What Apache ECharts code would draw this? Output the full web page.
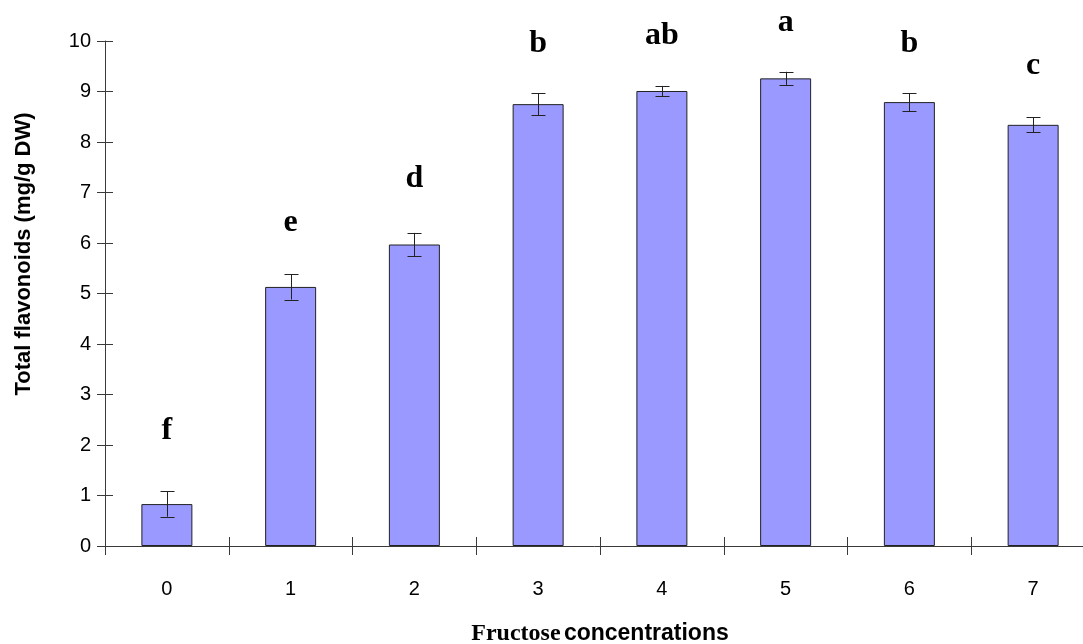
<!DOCTYPE html>
<html>
<head>
<meta charset="utf-8">
<script src="https://cdn.jsdelivr.net/npm/echarts@6/dist/echarts.min.js"></script>
<style>html,body{margin:0;padding:0;background:#fff}#c{width:1083px;height:644px}</style>
</head>
<body>
<div id="c"></div>
<script>
const categories = ['0','1','2','3','4','5','6','7'];
const values = [0.83, 5.13, 5.97, 8.75, 9.01, 9.26, 8.79, 8.34];
const errors = [0.25, 0.25, 0.23, 0.22, 0.10, 0.13, 0.18, 0.15];
const letters = ['f','e','d','b','ab','a','b','c'];
const letterY = [2.28, 6.40, 7.28, 9.95, 10.10, 10.36, 9.95, 9.52];
const yTicks = [0,1,2,3,4,5,6,7,8,9,10];

const axisColor = '#3a3a3a';
const chart = echarts.init(document.getElementById('c'));
const errData = values.map((v,i)=>[i, v-errors[i], v+errors[i]]);
const letterData = letters.map((t,i)=>[i, letterY[i], t]);

chart.setOption({
  animation:false,
  backgroundColor:'#fff',
  grid:{left:105, top:41, width:990, height:505, containLabel:false, outerBoundsMode:'none'},
  xAxis:[{
    type:'category', data:categories, boundaryGap:true,
    axisLine:{show:true, lineStyle:{color:axisColor, width:1}},
    axisTick:{show:true, inside:false, length:9, lineStyle:{color:axisColor}},
    axisLabel:{show:true, margin:33, color:'#000', fontSize:20, fontFamily:'Liberation Sans'},
    splitLine:{show:false},
    name:'{a|Fructose} {b|concentrations}', nameLocation:'middle', nameGap:76,
    nameTextStyle:{rich:{
      a:{fontFamily:'Liberation Serif', fontWeight:'bold', fontSize:24, color:'#000'},
      b:{fontFamily:'Liberation Sans', fontWeight:'bold', fontSize:23, color:'#000'}
    }}
  },{
    type:'category', data:categories, boundaryGap:true, position:'bottom',
    axisLine:{show:false},
    axisTick:{show:true, inside:true, length:9, lineStyle:{color:axisColor}},
    axisLabel:{show:false}, splitLine:{show:false}
  }],
  yAxis:[{
    type:'value', min:yTicks[0], max:yTicks[yTicks.length-1], interval:1,
    axisLine:{show:true, lineStyle:{color:axisColor, width:1}},
    axisTick:{show:true, inside:false, length:8, lineStyle:{color:axisColor}},
    axisLabel:{show:true, margin:14, color:'#000', fontSize:20, fontFamily:'Liberation Sans'},
    splitLine:{show:false}
  },{
    type:'value', min:yTicks[0], max:yTicks[yTicks.length-1], interval:1, position:'left',
    axisLine:{show:false},
    axisTick:{show:true, inside:true, length:8, lineStyle:{color:axisColor}},
    axisLabel:{show:false}, splitLine:{show:false}
  }],
  graphic:[{
    type:'text', x:24, y:254, rotation:Math.PI/2,
    style:{text:'Total flavonoids (mg/g DW)', font:'bold 22px "Liberation Sans"', fill:'#000', align:'center', verticalAlign:'middle'}
  }],
  series:[{
    type:'bar', data:values, barWidth:51, xAxisIndex:0, yAxisIndex:0,
    itemStyle:{color:'#9999FF', borderColor:'#222', borderWidth:1}
  },{
    type:'custom', xAxisIndex:0, yAxisIndex:0, clip:false, z:5,
    data:errData,
    renderItem:function(params, api){
      const lo = api.coord([api.value(0), api.value(1)]);
      const hi = api.coord([api.value(0), api.value(2)]);
      const cx = Math.round(lo[0]) + 0.5;
      const hw = 7;
      const st = {stroke:'#222', lineWidth:1};
      return {type:'group', children:[
        {type:'line', shape:{x1:cx, y1:lo[1], x2:cx, y2:hi[1]}, style:st},
        {type:'line', shape:{x1:cx-hw, y1:Math.round(lo[1])+0.5, x2:cx+hw, y2:Math.round(lo[1])+0.5}, style:st},
        {type:'line', shape:{x1:cx-hw, y1:Math.round(hi[1])+0.5, x2:cx+hw, y2:Math.round(hi[1])+0.5}, style:st}
      ]};
    }
  },{
    type:'custom', xAxisIndex:0, yAxisIndex:0, clip:false, z:6,
    data:letterData,
    renderItem:function(params, api){
      const p = api.coord([api.value(0), api.value(1)]);
      return {type:'text', x:p[0], y:p[1], style:{
        text:letters[params.dataIndex], font:'bold 32px "Liberation Serif"', fill:'#000',
        align:'center', verticalAlign:'middle'}};
    }
  }]
});
</script>
</body>
</html>
